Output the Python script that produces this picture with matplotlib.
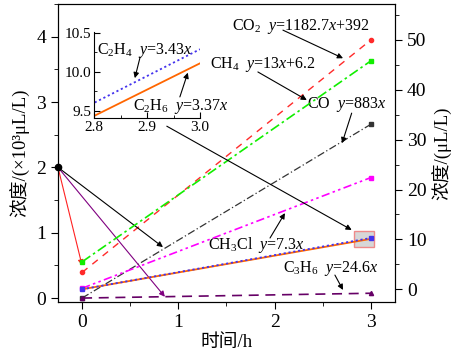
import numpy as np
import matplotlib
matplotlib.use('Agg')
import matplotlib.pyplot as plt
from matplotlib.ticker import AutoMinorLocator, MultipleLocator
from matplotlib.patches import Rectangle

plt.rcParams['font.family'] = ['Liberation Serif', 'Noto Sans CJK SC']
plt.rcParams['mathtext.fontset'] = 'custom'
plt.rcParams['mathtext.rm'] = 'Liberation Serif'
plt.rcParams['mathtext.it'] = 'Liberation Serif:italic'

# time points (h)
t = [0, 3]
# left axis (x10^3 uL/L)
co2 = [0.392, 3.95]
co = [0.0, 2.66]
c3h6 = [0.0, 0.0738]
# right axis (uL/L)
ch4 = [5.5, 45.8]
ch3cl = [0.2, 22.4]
c2h4 = [0.0, 10.29]
c2h6 = [0.0, 10.11]

fig = plt.figure(figsize=(4.52, 3.56), dpi=100)
ax = fig.add_axes([0.1283, 0.1517, 0.7456, 0.8371])
ax2 = ax.twinx()

ax.plot(t, co2, color='#FF2a2a', ls=(0, (5, 4.5)), lw=1.0, marker='o', ms=3)
ax.plot(t, co, color='#333333', ls=(0, (6, 2, 1, 2)), lw=0.9, marker='s', ms=2.5)
ax.plot(t, c3h6, color='#660066', ls=(0, (6, 4)), lw=1.2, marker='^', ms=3)

ax2.plot(t, ch4, color='#11EE00', ls=(0, (6, 2, 1.5, 2)), lw=1.2, marker='s', ms=3)
ax2.plot(t, ch3cl, color='#FF00FF', ls=(0, (5, 2, 1.5, 2, 1.5, 2)), lw=1.2, marker='s', ms=3)
ax2.plot(t, c2h6, color='#FF6600', ls='-', lw=1.3)
ax2.plot(t, c2h4, color='#4433EE', ls=(0, (1.2, 1.5)), lw=1.3, marker='s', ms=3)

ax.set_xlim(-0.25, 3.25)
ax.set_ylim(-0.06, 4.5)
ax2.set_ylim(-2.55, 57.2)

ax.xaxis.set_major_locator(MultipleLocator(1))
ax.xaxis.set_minor_locator(AutoMinorLocator(2))
ax.yaxis.set_major_locator(MultipleLocator(1))
ax.yaxis.set_minor_locator(AutoMinorLocator(2))
ax2.yaxis.set_major_locator(MultipleLocator(10))
ax2.yaxis.set_minor_locator(AutoMinorLocator(2))
ax.tick_params(axis='both', which='major', direction='out', length=5, labelsize=14, top=False)
ax.tick_params(axis='both', which='minor', direction='out', length=3, top=False)
ax2.tick_params(axis='y', which='major', direction='out', length=5, labelsize=14)
ax2.tick_params(axis='y', which='minor', direction='out', length=3)

ax.set_xlabel('时间/h', fontsize=13.5, labelpad=2)
ax.set_ylabel('浓度/(×10³μL/L)', fontsize=13.5, labelpad=4)
ax2.set_ylabel('浓度/(μL/L)', fontsize=13.5, labelpad=4)

# start dot and indicator arrows
ax.plot([-0.25], [2], 'o', color='black', ms=4.5, clip_on=False, zorder=5)
arr = dict(arrowstyle='-|>', lw=0.8, shrinkA=0, shrinkB=0, mutation_scale=8)
ax.annotate('', xy=(0, 0.5), xytext=(-0.25, 2), arrowprops=dict(arr, color='#FF2222'))
ax.annotate('', xy=(0.84, 0.78), xytext=(-0.25, 2), arrowprops=dict(arr, color='black'))
ax.annotate('', xy=(0.86, 0.02), xytext=(-0.25, 2), arrowprops=dict(arr, color='#800080'))

# zoom box
ax2.add_patch(Rectangle((2.82, 8.5), 0.21, 3.2, facecolor='#D3D3D3', edgecolor='#F08080',
                        lw=1.0, alpha=0.9, zorder=0))
ax2.annotate('', xy=(2.80, 11.9), xycoords='data', xytext=(0.88, 2.63),
             textcoords=ax.transData, arrowprops=dict(arr, color='black'))

# labels with arrows
fs = 11.5
ax.text(1.557, 4.16, r'CO$_2$  $y$=1182.7$x$+392', fontsize=fs, va='center')
ax.annotate('', xy=(2.71, 3.67), xytext=(2.086, 4.10), arrowprops=dict(arr, color='black'))
ax.text(1.33, 3.57, r'CH$_4$  $y$=13$x$+6.2', fontsize=fs, va='center')
ax.annotate('', xy=(2.334, 3.03), xytext=(1.826, 3.46), arrowprops=dict(arr, color='black'))
ax.text(2.335, 2.955, r'CO  $y$=883$x$', fontsize=fs, va='center')
ax.annotate('', xy=(2.70, 2.37), xytext=(2.80, 2.83), arrowprops=dict(arr, color='black'))
ax.text(1.307, 0.81, r'CH$_3$Cl  $y$=7.3$x$', fontsize=fs, va='center')
ax.annotate('', xy=(2.107, 1.30), xytext=(1.952, 0.919), arrowprops=dict(arr, color='black'))
ax.text(2.086, 0.46, r'C$_3$H$_6$  $y$=24.6$x$', fontsize=fs, va='center')
ax.annotate('', xy=(2.71, 0.124), xytext=(2.626, 0.352), arrowprops=dict(arr, color='black'))

# inset
axin = fig.add_axes([0.208, 0.6685, 0.2345, 0.2415])
axin.patch.set_alpha(0)
axin.plot(t, c2h4, color='#4433EE', ls=(0, (1.2, 1.5)), lw=1.3)
axin.plot(t, c2h6, color='#FF6600', ls='-', lw=1.3)
axin.set_xlim(2.8, 3.0)
axin.set_ylim(9.41, 10.51)
axin.spines['top'].set_visible(False)
axin.spines['right'].set_visible(False)
axin.set_xticks([2.8, 2.9, 3.0])
axin.set_yticks([9.5, 10.0, 10.5])
axin.xaxis.set_minor_locator(AutoMinorLocator(2))
axin.yaxis.set_minor_locator(AutoMinorLocator(2))
axin.tick_params(which='major', direction='in', length=4, labelsize=11, pad=2)
axin.tick_params(which='minor', direction='in', length=2)
axin.text(2.805, 10.28, r'C$_2$H$_4$  $y$=3.43$x$', fontsize=fs, va='center')
axin.annotate('', xy=(2.877, 9.92), xytext=(2.887, 10.19), arrowprops=dict(arr, color='black'))
axin.text(2.874, 9.56, r'C$_2$H$_6$  $y$=3.37$x$', fontsize=fs, va='center')
axin.annotate('', xy=(2.977, 9.99), xytext=(2.962, 9.68), arrowprops=dict(arr, color='black'))

fig.savefig('out.png', dpi=100)
